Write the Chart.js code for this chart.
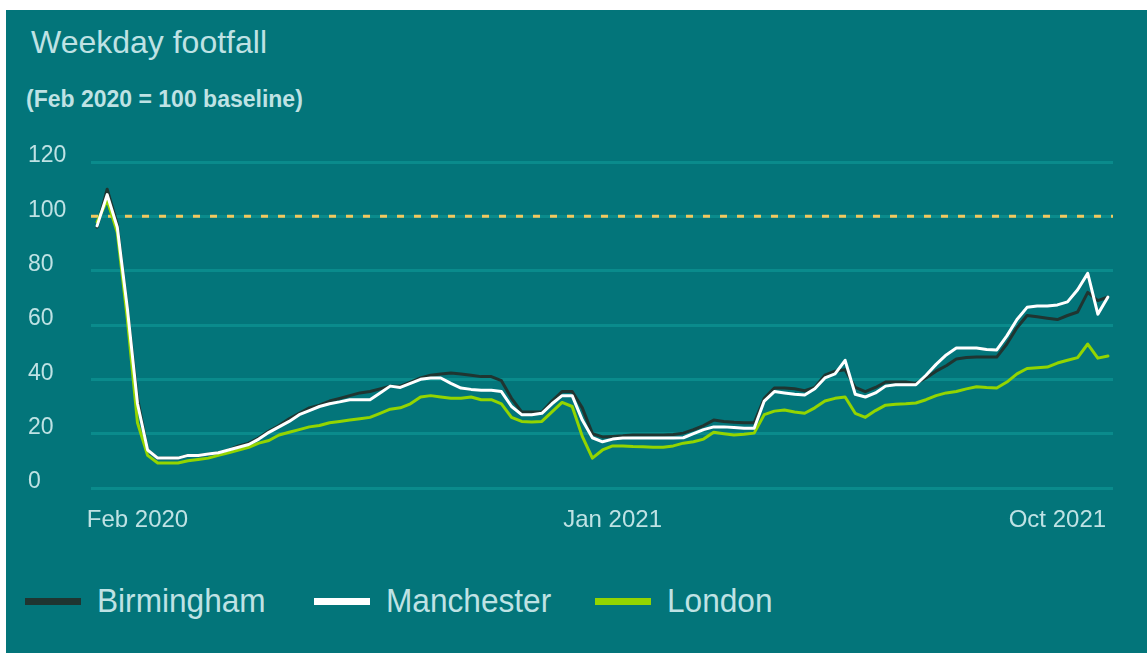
<!DOCTYPE html>
<html lang="en">
<head>
<meta charset="UTF-8">
<title>Weekday footfall</title>
<script src="https://cdn.jsdelivr.net/npm/chart.js"></script>
<style>
  body {
    margin: 0;
    background: #ffffff;
    font-family: "Liberation Sans", Arial, sans-serif;
  }
  .panel {
    position: absolute;
    left: 6px;
    top: 10px;
    width: 1141px;
    height: 643px;
    background: #03757a;
    color: #bfe2e4;
    overflow: hidden;
  }
  .panel h1 {
    position: absolute;
    left: 25px;
    top: 16px;
    margin: 0;
    font-size: 32px;
    font-weight: normal;
    line-height: 1;
  }
  .panel .sub {
    position: absolute;
    left: 20px;
    top: 78px;
    font-size: 23px;
    font-weight: bold;
    line-height: 1;
  }
  .chart-box {
    position: absolute;
    left: 0;
    top: 0;
    width: 1141px;
    height: 560px;
  }
  .legend {
    position: absolute;
    left: 0;
    top: 572px;
  }
  .legend .item { position: absolute; top: 0; height: 40px; }
  .legend .item:nth-child(1) { left: 19px; }
  .legend .item:nth-child(2) { left: 308px; }
  .legend .item:nth-child(3) { left: 589px; }
  .legend .swatch {
    position: absolute;
    left: 0;
    top: 16px;
    width: 56px;
    height: 7px;
  }
  .legend .name {
    position: absolute;
    left: 72px;
    top: 1px;
    font-size: 34px;
    line-height: 1;
    white-space: nowrap;
    transform: scaleX(0.93);
    transform-origin: left center;
  }
</style>
</head>
<body>
  <div class="panel">
    <h1>Weekday footfall</h1>
    <div class="sub">(Feb 2020 = 100 baseline)</div>
    <div class="chart-box">
      <canvas id="footfallChart" width="1141" height="560"></canvas>
    </div>
    <div class="legend" id="legend"></div>
  </div>

<script>
  // weekly footfall index, one value per week
  const birmingham = [
    96, 110, 97, 66, 33, 14, 11, 11, 11, 12,
    12, 12.5, 13, 14, 15.5, 16.5, 18.5, 21, 23, 25.5,
    27.5, 29.5, 30.5, 32, 33, 34, 35, 35.5, 36.5, 37.5,
    37.5, 39, 40.5, 41.5, 42, 42.3, 42, 41.5, 41, 41,
    39.5, 33, 28, 28, 28, 32, 35.5, 35.5, 29.5, 20,
    18.8, 19, 19.2, 19.5, 19.5, 19.5, 19.5, 19.7, 20.2, 21.5,
    23, 25, 24.5, 24.2, 24, 24, 33, 36.8, 36.8, 36.5,
    35.8, 37, 41.5, 43, 43.5, 37, 35.5, 37, 39, 39,
    39, 38.5, 40.5, 43, 45, 47.5, 48, 48.2, 48.2, 48.2,
    53, 59, 63.5, 63, 62.5, 62, 63.5, 64.8, 72, 69,
    70.3
  ];
  const manchester = [
    96.5, 108, 96, 66, 31, 14, 11, 11, 11, 12,
    12, 12.5, 13, 14, 15, 16, 18, 20.5, 22.5, 24.5,
    27, 28.5, 30, 31, 31.7, 32.5, 32.5, 32.5, 35, 37.5,
    37, 38.5, 40, 40.5, 40.5, 38.5, 36.8, 36.3, 36, 36,
    35.5, 30, 27, 27, 27.5, 31, 34, 34, 25, 18.5,
    17, 18, 18.4, 18.4, 18.4, 18.4, 18.4, 18.4, 18.5, 20,
    21.5, 22.5, 22.5, 22.3, 22, 22, 32, 35.5, 35, 34.5,
    34.2, 36.5, 40.5, 42, 47, 34.5, 33.5, 35, 37.5, 38,
    38, 38, 41.5, 45.5, 49, 51.5, 51.5, 51.5, 51, 50.8,
    56, 62, 66.5, 67, 67, 67.4, 68.5, 73, 79, 64,
    70.3
  ];
  const london = [
    98, 106, 94, 62, 24, 12, 9.2, 9.2, 9.2, 10,
    10.5, 11, 12, 13, 14, 15, 16.5, 17.5, 19.5, 20.5,
    21.5, 22.5, 23, 24, 24.5, 25, 25.5, 26, 27.5, 29,
    29.5, 31, 33.5, 34, 33.5, 33, 33, 33.5, 32.5, 32.5,
    31, 26, 24.5, 24.3, 24.5, 28, 31.5, 30, 19, 11,
    14, 15.5, 15.5, 15.3, 15.2, 15, 15, 15.5, 16.5, 17,
    18, 20.5, 20, 19.5, 19.8, 20.2, 27, 28.3, 28.7, 28,
    27.5, 29.5, 32, 33, 33.5, 27.5, 26, 28.5, 30.5, 30.8,
    31, 31.3, 32.5, 34, 35, 35.5, 36.5, 37.3, 37, 36.8,
    39, 42, 44, 44.3, 44.5, 46, 47, 48, 53, 47.8,
    48.6
  ];
  const weeks = birmingham.map((_, i) => i);

  const BASELINE = 100;
  const tickWeeks = [4, 51, 95];
  const tickLabels = ['Feb 2020', 'Jan 2021', 'Oct 2021'];

  const textColor = '#bfe2e4';
  const gridColor = '#0a8b8c';

  // dashed yellow line marking the Feb 2020 baseline
  const baselinePlugin = {
    id: 'baselineLine',
    beforeDatasetsDraw(chart) {
      const { ctx, chartArea, scales } = chart;
      const y = scales.y.getPixelForValue(BASELINE);
      ctx.save();
      ctx.strokeStyle = '#f1c85f';
      ctx.lineWidth = 3;
      ctx.setLineDash([7, 10]);
      ctx.beginPath();
      ctx.moveTo(chartArea.left, y);
      ctx.lineTo(chartArea.right, y);
      ctx.stroke();
      ctx.restore();
    }
  };

  const lineStyle = {
    borderWidth: 3,
    pointRadius: 0,
    tension: 0,
    borderJoinStyle: 'round',
    borderCapStyle: 'round',
    fill: false
  };

  const chart = new Chart(document.getElementById('footfallChart'), {
    type: 'line',
    data: {
      labels: weeks,
      datasets: [
        { label: 'Birmingham', data: birmingham, borderColor: '#1f3531', order: 2, ...lineStyle },
        { label: 'Manchester', data: manchester, borderColor: '#ffffff', order: 0, ...lineStyle },
        { label: 'London', data: london, borderColor: '#93d500', order: 1, ...lineStyle }
      ]
    },
    options: {
      responsive: false,
      animation: false,
      layout: { padding: { top: 152, left: 22, right: 34, bottom: 32 } },
      plugins: {
        legend: { display: false },
        tooltip: { enabled: false }
      },
      scales: {
        x: {
          type: 'linear',
          min: -0.6,
          max: 100.5,
          afterBuildTicks: (scale) => {
            scale.ticks = tickWeeks.map(v => ({ value: v }));
          },
          afterFit: (scale) => { scale.height = 50; },
          grid: { display: false },
          border: { display: false },
          ticks: {
            autoSkip: false,
            maxRotation: 0,
            padding: 10,
            color: textColor,
            font: { family: '"Liberation Sans", Arial, sans-serif', size: 24 },
            callback: (value) => tickLabels[tickWeeks.indexOf(value)] || ''
          }
        },
        y: {
          min: 0,
          max: 120,
          afterFit: (scale) => { scale.width = 63; },
          grid: { color: gridColor, lineWidth: 3, drawTicks: false },
          border: { display: false },
          ticks: {
            stepSize: 20,
            crossAlign: 'far',
            padding: 25,
            labelOffset: -6,
            color: textColor,
            font: { family: '"Liberation Sans", Arial, sans-serif', size: 23 }
          }
        }
      }
    },
    plugins: [baselinePlugin]
  });

  // legend below the chart, built from the datasets
  const legendEl = document.getElementById('legend');
  chart.data.datasets.forEach(ds => {
    const item = document.createElement('div');
    item.className = 'item';
    const swatch = document.createElement('div');
    swatch.className = 'swatch';
    swatch.style.background = ds.borderColor;
    const name = document.createElement('div');
    name.className = 'name';
    name.textContent = ds.label;
    item.appendChild(swatch);
    item.appendChild(name);
    legendEl.appendChild(item);
  });
</script>
</body>
</html>
